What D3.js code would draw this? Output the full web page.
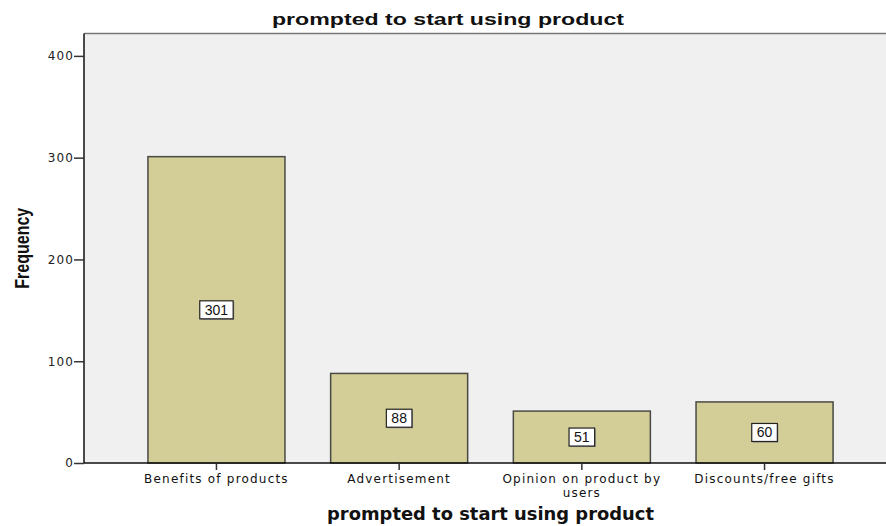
<!DOCTYPE html>
<html><head><meta charset="utf-8">
<script src="https://cdn.jsdelivr.net/npm/d3@7"></script>
<style>body{margin:0;background:#fff}svg{display:block}</style>
</head><body>
<svg id="c" width="886" height="526"></svg>
<script>
const categories = ["Benefits of products", "Advertisement", "Opinion on product by users", "Discounts/free gifts"];
const categoryLines = [["Benefits of products"], ["Advertisement"], ["Opinion on product by", "users"], ["Discounts/free gifts"]];
const frequencies = [301, 88, 51, 60];
const yTicks = [0, 100, 200, 300, 400];

const svg = d3.select("#c");
const L = 84, R = 897, T = 33.5, B = 463;
const x = d3.scaleBand().domain(categories).range([L, R]).paddingInner(0.25).paddingOuter(0.35);
const y = d3.scaleLinear().domain([0, 422]).range([B, T]);

svg.append("rect").attr("x", L).attr("y", T).attr("width", R - L).attr("height", B - T).attr("fill", "#f0f0f0");
svg.append("line").attr("x1", L).attr("x2", R).attr("y1", T).attr("y2", T).attr("stroke", "#777").attr("stroke-width", 1.5);

svg.selectAll("rect.bar").data(frequencies).join("rect").attr("class", "bar")
  .attr("x", (d, i) => x(categories[i])).attr("width", x.bandwidth())
  .attr("y", d => y(d)).attr("height", d => B - y(d))
  .attr("fill", "#d3ce98").attr("stroke", "#4a4a44").attr("stroke-width", 1.5);

const tickFont = "DejaVu Sans, Verdana, sans-serif";

// y axis
const ya = svg.append("g").attr("transform", `translate(${L},0)`)
  .call(d3.axisLeft(y).tickValues(yTicks).tickSize(10).tickPadding(0).tickFormat(d3.format("d")));
ya.select(".domain").attr("stroke", "#111").attr("stroke-width", 1.5).attr("d", `M0,${B}V${T}`);
ya.selectAll(".tick line").attr("stroke", "#333").attr("stroke-width", 1.5);
ya.selectAll(".tick text").attr("font-family", tickFont).attr("font-size", 12).attr("letter-spacing", 1.1).attr("fill", "#222");

// x axis
const xa = svg.append("g").attr("transform", `translate(0,${B})`)
  .call(d3.axisBottom(x).tickSize(7).tickSizeOuter(0).tickFormat(""));
xa.select(".domain").attr("stroke", "#111").attr("stroke-width", 1.5).attr("d", `M${L},0H${R}`);
xa.selectAll(".tick line").attr("stroke", "#333").attr("stroke-width", 1.5);
xa.selectAll(".tick").each(function(d, i) {
  const t = d3.select(this).append("text").attr("fill", "#111").attr("text-anchor", "middle")
    .attr("font-family", tickFont).attr("font-size", 12).attr("letter-spacing", 1.2);
  categoryLines[i].forEach((ln, j) => t.append("tspan").attr("x", 0).attr("y", 20 + j * 14).text(ln));
});

// value labels
const lab = svg.selectAll("g.lab").data(frequencies).join("g").attr("class", "lab")
  .attr("transform", (d, i) => `translate(${x(categories[i]) + x.bandwidth() / 2},${(y(d) + B) / 2})`);
lab.each(function(d) {
  const g = d3.select(this);
  const txt = String(d);
  const w = txt.length * 7.8 + 10;
  g.append("rect").attr("x", -w / 2 + 1).attr("y", -8).attr("width", w).attr("height", 18).attr("fill", "#888");
  g.append("rect").attr("x", -w / 2).attr("y", -9).attr("width", w).attr("height", 18).attr("fill", "#fff").attr("stroke", "#222").attr("stroke-width", 1.2);
  g.append("text").attr("text-anchor", "middle").attr("y", 5).attr("font-family", "Liberation Sans, Arial, sans-serif")
    .attr("font-size", 14).attr("fill", "#111").text(txt);
});

// titles
svg.append("text").attr("x", 448).attr("y", 25).attr("text-anchor", "middle")
  .attr("font-family", "Liberation Sans, Arial, sans-serif").attr("font-weight", "bold").attr("font-size", 17).attr("fill", "#111")
  .attr("textLength", 352).attr("lengthAdjust", "spacingAndGlyphs")
  .text("prompted to start using product");
svg.append("text").attr("x", (L + R) / 2).attr("y", 520).attr("text-anchor", "middle")
  .attr("font-family", "DejaVu Sans, Verdana, sans-serif").attr("font-weight", "bold").attr("font-size", 17.9).attr("fill", "#111")
  .text("prompted to start using product");
svg.append("text").attr("transform", `translate(29,${(T + B) / 2}) scale(1.25,1) rotate(-90)`).attr("text-anchor", "middle")
  .attr("font-family", "Liberation Sans Narrow, Arial Narrow, Liberation Sans, sans-serif").attr("font-weight", "bold").attr("font-size", 16).attr("fill", "#111")
  .text("Frequency");
</script>
</body></html>
